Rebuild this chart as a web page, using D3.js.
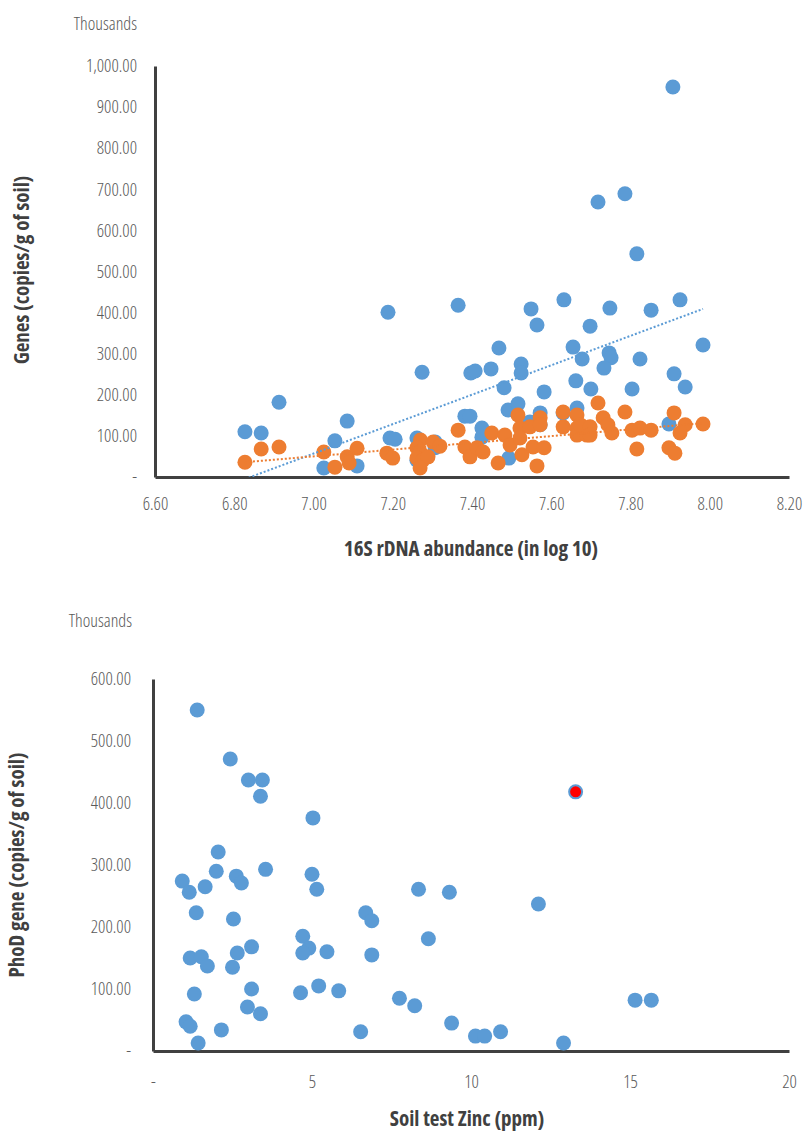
<!DOCTYPE html>
<html>
<head>
<meta charset="utf-8">
<script src="https://cdn.jsdelivr.net/npm/d3@7"></script>
<style>
  body { margin: 0; background: #fff; }
  text { font-family: "Liberation Sans Narrow", "Open Sans", sans-serif; font-stretch: condensed; }
  .tick-label { fill: #595959; font-size: 18px; font-weight: 300; }
  .axis-title { fill: #404040; font-size: 21px; font-weight: 700; }
</style>
</head>
<body>
<div class="chart"></div>
<script>
// ---- chart 1: genes vs 16S rDNA abundance (values in thousands) ----
const genesTicksX = [6.6, 6.8, 7.0, 7.2, 7.4, 7.6, 7.8, 8.0, 8.2];
const genesTicksY = [0, 100, 200, 300, 400, 500, 600, 700, 800, 900, 1000];

// blue series [log10 16S, copies/g (thousands)]
const genesBlue = [
  [6.827, 110], [6.868, 107], [6.913, 182], [7.085, 136], [7.054, 88], [7.026, 22],
  [7.110, 27], [7.188, 401], [7.193, 95], [7.206, 92], [7.261, 95], [7.274, 255],
  [7.261, 41], [7.307, 85], [7.307, 71], [7.365, 418], [7.382, 148], [7.395, 148],
  [7.397, 253], [7.408, 258], [7.448, 263], [7.468, 314], [7.481, 217], [7.425, 119],
  [7.425, 97], [7.493, 46], [7.491, 163], [7.516, 178], [7.524, 275], [7.524, 253],
  [7.549, 409], [7.564, 370], [7.572, 156], [7.572, 127], [7.582, 207], [7.546, 134],
  [7.630, 156], [7.632, 431], [7.655, 316], [7.662, 234], [7.665, 168], [7.678, 287],
  [7.698, 367], [7.700, 214], [7.718, 669], [7.746, 302], [7.751, 290], [7.733, 265],
  [7.748, 411], [7.786, 689], [7.804, 214], [7.816, 543], [7.824, 287], [7.852, 406],
  [7.897, 129], [7.907, 949], [7.910, 251], [7.925, 431], [7.938, 219], [7.983, 321]
];

// orange series
const genesOrange = [
  [6.827, 36], [6.868, 68], [6.913, 73], [7.026, 61], [7.054, 24], [7.085, 49],
  [7.090, 34], [7.110, 70], [7.185, 58], [7.200, 46], [7.270, 90], [7.302, 85],
  [7.261, 71], [7.269, 61], [7.261, 46], [7.276, 41], [7.289, 49], [7.269, 22],
  [7.365, 114], [7.382, 73], [7.395, 49], [7.413, 71], [7.428, 61], [7.450, 107],
  [7.483, 102], [7.496, 78], [7.466, 34], [7.516, 151], [7.521, 119], [7.521, 95],
  [7.526, 54], [7.546, 122], [7.572, 144], [7.572, 127], [7.554, 73], [7.582, 71],
  [7.564, 27], [7.630, 158], [7.630, 122], [7.665, 151], [7.665, 119], [7.680, 122],
  [7.665, 102], [7.690, 102], [7.718, 180], [7.786, 158], [7.673, 127], [7.698, 122],
  [7.698, 102], [7.731, 144], [7.743, 127], [7.753, 107], [7.804, 114], [7.824, 119],
  [7.852, 114], [7.816, 68], [7.897, 71], [7.912, 58], [7.910, 156], [7.938, 127],
  [7.925, 107], [7.983, 129], [7.319, 75]
];

// linear trendlines, end points
const trendX = [6.827, 7.983];
const blueTrendY = [-5, 409];
const orangeTrendY = [36, 131];

// ---- chart 2: PhoD gene vs soil test zinc ----
const zincTicksX = [0, 5, 10, 15, 20];
const phodTicksY = [0, 100, 200, 300, 400, 500, 600];

// [zinc ppm, copies/g (thousands)]
const phodPoints = [
  [1.39, 550], [2.43, 471], [3.00, 437], [3.44, 437], [3.38, 411], [2.05, 321],
  [1.99, 290], [3.54, 293], [5.00, 285], [5.15, 261], [2.62, 282], [2.78, 271],
  [0.92, 274], [1.14, 256], [1.64, 265], [8.35, 261], [9.32, 256], [12.12, 237],
  [1.36, 223], [2.53, 213], [6.69, 223], [6.88, 210], [4.71, 185], [4.90, 166],
  [4.71, 158], [5.47, 160], [8.66, 181], [6.88, 155], [1.17, 150], [1.52, 152],
  [1.71, 137], [2.65, 158], [3.10, 168], [2.50, 135], [1.30, 92], [3.10, 100],
  [2.97, 71], [3.38, 60], [4.64, 94], [5.21, 105], [5.84, 97], [7.75, 85],
  [8.23, 73], [1.04, 47], [1.17, 40], [2.15, 34], [1.42, 13], [6.53, 31],
  [9.39, 45], [10.14, 24], [10.43, 24], [10.93, 31], [12.91, 13], [15.16, 82],
  [15.67, 82], [5.03, 376]
];
const phodHighlight = [[13.29, 418]];

const blue = "#5B9BD5";
const orange = "#ED7D31";
const axisColor = "#404040";

let svg = d3
  .select(".chart")
  .append("svg")
  .attr("width", 806)
  .attr("height", 1131);

function drawAxes(x, y, opts) {
  svg.append("g")
    .attr("transform", `translate(${x.range()[0]},0)`)
    .call(d3.axisLeft(y).tickValues(opts.yTicks).tickSize(0).tickSizeOuter(0)
      .tickPadding(opts.yPad).tickFormat(opts.yFormat))
    .call(g => g.select(".domain").attr("stroke", axisColor).attr("stroke-width", 3))
    .call(g => g.selectAll("text").attr("class", "tick-label").attr("font-family", null).attr("font-size", null));

  svg.append("g")
    .attr("transform", `translate(0,${y.range()[0]})`)
    .call(d3.axisBottom(x).tickValues(opts.xTicks).tickSize(0).tickSizeOuter(0)
      .tickPadding(opts.xPad).tickFormat(opts.xFormat))
    .call(g => g.select(".domain").attr("stroke", axisColor).attr("stroke-width", 3))
    .call(g => g.selectAll("text").attr("class", "tick-label").attr("font-family", null).attr("font-size", null));
}

function dots(data, x, y, color) {
  svg.append("g")
    .selectAll("circle")
    .data(data)
    .enter().append("circle")
      .attr("cx", d => x(d[0]))
      .attr("cy", d => y(d[1]))
      .attr("r", 7.5)
      .attr("fill", color);
}

const yFmt = d => d === 0 ? "-" : d3.format(",.2f")(d);

// chart 1
const x1 = d3.scaleLinear().domain([6.6, 8.2]).range([155, 789]);
const y1 = d3.scaleLinear().domain([0, 1000]).range([477, 66]);

drawAxes(x1, y1, {
  xTicks: genesTicksX, yTicks: genesTicksY,
  xPad: 20, yPad: 18,
  xFormat: d3.format(".2f"), yFormat: yFmt
});

svg.append("clipPath")
  .attr("id", "clip1")
  .append("rect")
  .attr("x", x1.range()[0]).attr("y", y1.range()[1])
  .attr("width", x1.range()[1] - x1.range()[0])
  .attr("height", y1.range()[0] - y1.range()[1]);

dots(genesBlue, x1, y1, blue);
dots(genesOrange, x1, y1, orange);

[[blueTrendY, blue], [orangeTrendY, orange]].forEach(([ty, color]) => {
  svg.append("path")
    .datum(trendX.map((v, i) => [v, ty[i]]))
    .attr("clip-path", "url(#clip1)")
    .attr("fill", "none")
    .attr("stroke", color)
    .attr("stroke-width", 2)
    .attr("stroke-dasharray", "2,2")
    .attr("d", d3.line().x(d => x1(d[0])).y(d => y1(d[1])));
});

svg.append("text").attr("class", "tick-label")
  .attr("x", 137).attr("y", 30).attr("text-anchor", "end").text("Thousands");
svg.append("text").attr("class", "axis-title")
  .attr("transform", "translate(29,270) rotate(-90)")
  .attr("text-anchor", "middle").text("Genes (copies/g of soil)");
svg.append("text").attr("class", "axis-title")
  .attr("x", 471).attr("y", 556).attr("text-anchor", "middle")
  .text("16S rDNA abundance (in log 10)");

// chart 2
const x2 = d3.scaleLinear().domain([0, 20]).range([153, 789]);
const y2 = d3.scaleLinear().domain([0, 600]).range([1051, 679]);

drawAxes(x2, y2, {
  xTicks: zincTicksX, yTicks: phodTicksY,
  xPad: 24, yPad: 22,
  xFormat: d => d === 0 ? "-" : d, yFormat: d => d === 0 ? "-" : d3.format(".2f")(d)
});

dots(phodPoints, x2, y2, blue);
svg.append("g")
  .selectAll("circle")
  .data(phodHighlight)
  .enter().append("circle")
    .attr("cx", d => x2(d[0]))
    .attr("cy", d => y2(d[1]))
    .attr("r", 6.5)
    .attr("fill", "#FF0000")
    .attr("stroke", blue)
    .attr("stroke-width", 2);

svg.append("text").attr("class", "tick-label")
  .attr("x", 132).attr("y", 627).attr("text-anchor", "end").text("Thousands");
svg.append("text").attr("class", "axis-title")
  .attr("transform", "translate(24,865) rotate(-90)")
  .attr("text-anchor", "middle").text("PhoD gene (copies/g of soil)");
svg.append("text").attr("class", "axis-title")
  .attr("x", 467).attr("y", 1126).attr("text-anchor", "middle")
  .text("Soil test Zinc (ppm)");
</script>
</body>
</html>
